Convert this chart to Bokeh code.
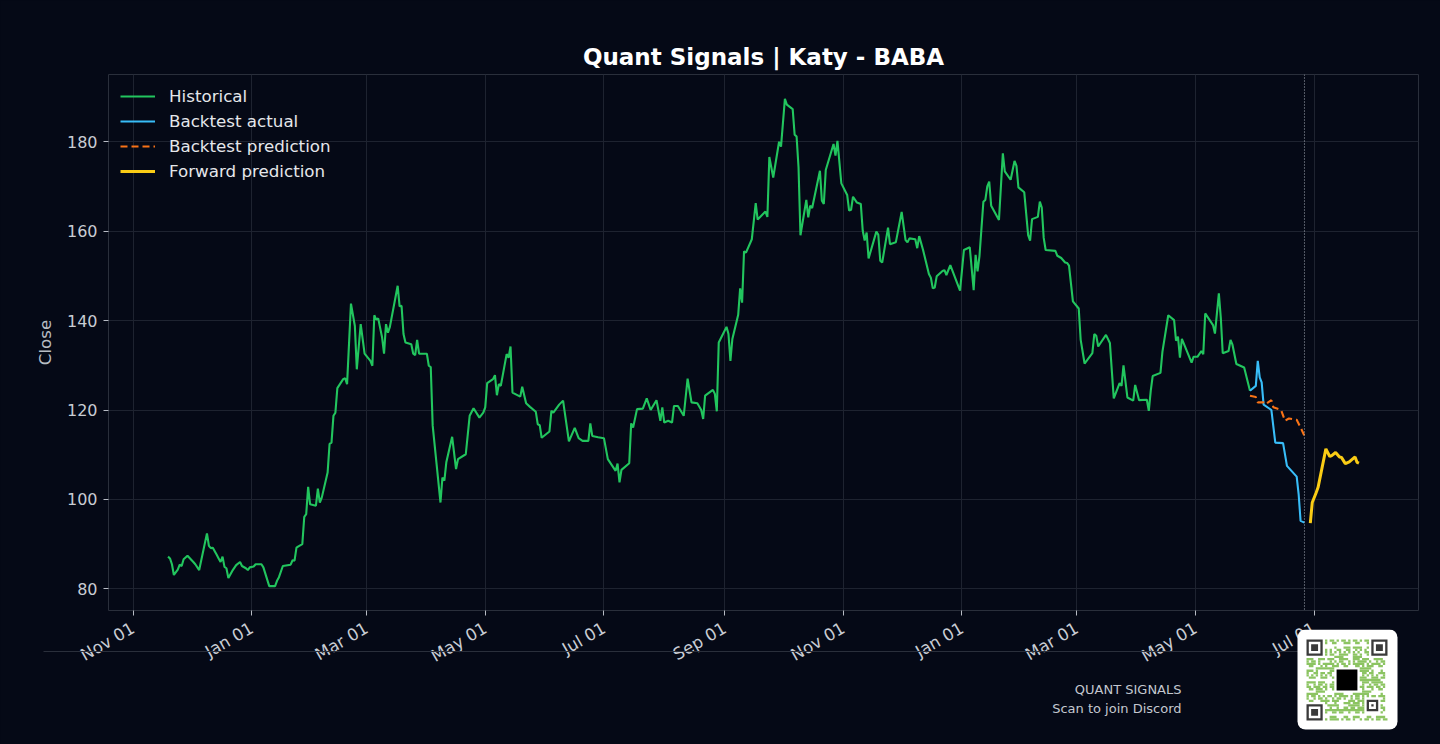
import math
import pandas as pd
from bokeh.plotting import figure
from bokeh.layouts import column
from bokeh.models import (ColumnDataSource, DatetimeTickFormatter, FixedTicker, Legend,
                          LegendItem, Span, Range1d)
from bokeh.core.properties import value
from bokeh.embed import file_html
from bokeh.resources import INLINE

# ---------------- data ----------------
hist_dates = [
    "2024-11-19", "2024-11-20", "2024-11-21", "2024-11-22", "2024-11-24", "2024-11-25", "2024-11-26",
    "2024-11-27", "2024-11-29", "2024-12-02", "2024-12-03", "2024-12-05", "2024-12-09", "2024-12-10",
    "2024-12-11", "2024-12-12", "2024-12-14", "2024-12-15", "2024-12-16", "2024-12-17", "2024-12-18",
    "2024-12-19", "2024-12-20", "2024-12-22", "2024-12-24", "2024-12-26", "2024-12-27", "2024-12-29",
    "2024-12-30", "2024-12-31", "2025-01-02", "2025-01-03", "2025-01-06", "2025-01-07", "2025-01-08",
    "2025-01-10", "2025-01-13", "2025-01-14", "2025-01-15", "2025-01-17", "2025-01-21", "2025-01-22",
    "2025-01-23", "2025-01-24", "2025-01-25", "2025-01-27", "2025-01-28", "2025-01-29", "2025-01-30",
    "2025-01-31", "2025-02-03", "2025-02-04", "2025-02-05", "2025-02-06", "2025-02-09", "2025-02-10",
    "2025-02-11", "2025-02-12", "2025-02-13", "2025-02-14", "2025-02-17", "2025-02-18", "2025-02-19",
    "2025-02-21", "2025-02-23", "2025-02-24", "2025-02-26", "2025-02-28", "2025-03-03", "2025-03-04",
    "2025-03-05", "2025-03-06", "2025-03-07", "2025-03-09", "2025-03-10", "2025-03-11", "2025-03-12",
    "2025-03-13", "2025-03-17", "2025-03-18", "2025-03-19", "2025-03-20", "2025-03-21", "2025-03-24",
    "2025-03-25", "2025-03-26", "2025-03-27", "2025-03-28", "2025-04-01", "2025-04-02", "2025-04-03",
    "2025-04-04", "2025-04-06", "2025-04-08", "2025-04-09", "2025-04-10", "2025-04-11", "2025-04-14",
    "2025-04-16", "2025-04-17", "2025-04-21", "2025-04-23", "2025-04-25", "2025-04-28", "2025-04-30",
    "2025-05-01", "2025-05-02", "2025-05-05", "2025-05-06", "2025-05-07", "2025-05-08", "2025-05-09",
    "2025-05-12", "2025-05-13", "2025-05-14", "2025-05-15", "2025-05-19", "2025-05-20", "2025-05-22",
    "2025-05-24", "2025-05-27", "2025-05-28", "2025-05-29", "2025-05-30", "2025-06-03", "2025-06-04",
    "2025-06-05", "2025-06-08", "2025-06-10", "2025-06-13", "2025-06-16", "2025-06-18", "2025-06-20",
    "2025-06-23", "2025-06-24", "2025-06-25", "2025-06-28", "2025-07-01", "2025-07-03", "2025-07-07",
    "2025-07-08", "2025-07-09", "2025-07-10", "2025-07-14", "2025-07-15", "2025-07-16", "2025-07-18",
    "2025-07-21", "2025-07-23", "2025-07-25", "2025-07-28", "2025-07-30", "2025-07-31", "2025-08-01",
    "2025-08-03", "2025-08-05", "2025-08-06", "2025-08-08", "2025-08-11", "2025-08-13", "2025-08-15",
    "2025-08-18", "2025-08-20", "2025-08-21", "2025-08-22", "2025-08-26", "2025-08-27", "2025-08-28",
    "2025-08-29", "2025-09-02", "2025-09-03", "2025-09-04", "2025-09-05", "2025-09-08", "2025-09-09",
    "2025-09-10", "2025-09-11", "2025-09-12", "2025-09-15", "2025-09-17", "2025-09-18", "2025-09-22",
    "2025-09-23", "2025-09-24", "2025-09-26", "2025-09-29", "2025-09-30", "2025-10-02", "2025-10-03",
    "2025-10-06", "2025-10-07", "2025-10-08", "2025-10-09", "2025-10-10", "2025-10-13", "2025-10-14",
    "2025-10-15", "2025-10-16", "2025-10-20", "2025-10-21", "2025-10-22", "2025-10-23", "2025-10-27",
    "2025-10-28", "2025-10-29", "2025-10-31", "2025-11-03", "2025-11-04", "2025-11-05", "2025-11-06",
    "2025-11-08", "2025-11-10", "2025-11-11", "2025-11-12", "2025-11-13", "2025-11-14", "2025-11-18",
    "2025-11-19", "2025-11-20", "2025-11-21", "2025-11-24", "2025-11-25", "2025-11-28", "2025-12-01",
    "2025-12-03", "2025-12-04", "2025-12-05", "2025-12-08", "2025-12-09", "2025-12-10", "2025-12-12",
    "2025-12-15", "2025-12-16", "2025-12-17", "2025-12-18", "2025-12-19", "2025-12-22", "2025-12-23",
    "2025-12-24", "2025-12-26", "2025-12-31", "2026-01-02", "2026-01-05", "2026-01-07", "2026-01-08",
    "2026-01-09", "2026-01-10", "2026-01-12", "2026-01-13", "2026-01-14", "2026-01-15", "2026-01-16",
    "2026-01-20", "2026-01-22", "2026-01-23", "2026-01-26", "2026-01-28", "2026-01-29", "2026-01-30",
    "2026-02-02", "2026-02-04", "2026-02-05", "2026-02-06", "2026-02-09", "2026-02-10", "2026-02-11",
    "2026-02-12", "2026-02-13", "2026-02-18", "2026-02-19", "2026-02-21", "2026-02-23", "2026-02-24",
    "2026-02-25", "2026-02-27", "2026-03-02", "2026-03-03", "2026-03-05", "2026-03-09", "2026-03-10",
    "2026-03-11", "2026-03-12", "2026-03-16", "2026-03-18", "2026-03-20", "2026-03-23", "2026-03-24",
    "2026-03-25", "2026-03-27", "2026-03-30", "2026-03-31", "2026-04-02", "2026-04-06", "2026-04-07",
    "2026-04-08", "2026-04-09", "2026-04-13", "2026-04-14", "2026-04-17", "2026-04-20", "2026-04-21",
    "2026-04-22", "2026-04-23", "2026-04-24", "2026-04-29", "2026-04-30", "2026-05-02", "2026-05-04",
    "2026-05-05", "2026-05-06", "2026-05-10", "2026-05-11", "2026-05-13", "2026-05-14", "2026-05-15",
    "2026-05-18", "2026-05-19", "2026-05-20", "2026-05-22", "2026-05-26", "2026-05-29",
]
hist_close = [
    87.2, 86.8, 85.5, 83.1, 84.3, 85.4, 85.1,
    86.6, 87.4, 86.0, 85.5, 84.2, 92.4, 89.6,
    89.1, 89.2, 87.6, 86.8, 86.0, 87.2, 84.9,
    84.6, 82.4, 84.0, 85.3, 86.0, 85.1, 84.6,
    84.2, 84.8, 85.0, 85.5, 85.5, 84.8, 83.4,
    80.6, 80.6, 81.8, 82.6, 85.1, 85.4, 86.4,
    86.3, 89.2, 89.5, 90.0, 96.1, 96.7, 102.8,
    98.9, 98.6, 102.4, 99.3, 100.4, 106.0, 112.4,
    112.7, 118.7, 119.4, 124.9, 126.9, 127.1, 125.8,
    143.8, 138.8, 129.1, 139.2, 132.6, 131.0, 129.9,
    141.2, 140.2, 140.5, 136.2, 132.6, 139.2, 137.3,
    138.6, 147.8, 143.2, 143.3, 137.0, 135.1, 134.7,
    132.6, 132.3, 135.7, 132.6, 132.6, 129.9, 129.6,
    116.5, 107.9, 99.3, 104.9, 104.2, 108.3, 114.0,
    106.8, 109.0, 110.1, 118.7, 120.4, 118.3, 119.4,
    120.6, 126.0, 126.9, 127.8, 123.3, 125.8, 125.4,
    132.5, 131.7, 134.2, 123.9, 123.0, 125.2, 121.5,
    120.7, 119.6, 116.8, 116.6, 113.8, 115.2, 119.8,
    119.4, 121.2, 122.1, 113.0, 116.0, 113.7, 113.1,
    113.1, 117.0, 114.2, 113.9, 113.7, 109.0, 106.4,
    108.0, 103.8, 106.6, 108.1, 117.0, 116.1, 120.2,
    120.3, 122.6, 120.0, 122.2, 117.6, 120.6, 117.2,
    117.6, 117.2, 120.9, 120.9, 118.7, 127.0, 121.7,
    121.5, 120.0, 118.0, 123.2, 124.5, 123.6, 119.7,
    135.1, 138.6, 137.0, 131.0, 135.9, 141.3, 147.2,
    144.0, 155.5, 155.2, 158.2, 166.3, 162.6, 164.4,
    163.2, 176.6, 172.0, 180.0, 178.9, 189.6, 188.3,
    187.3, 181.6, 181.2, 174.3, 159.1, 167.0, 163.1,
    165.7, 165.2, 173.5, 166.8, 166.1, 173.7, 179.5,
    176.9, 180.2, 170.7, 168.1, 164.6, 164.8, 167.7,
    166.4, 166.1, 160.1, 157.9, 159.7, 153.9, 159.9,
    159.2, 153.4, 153.0, 160.8, 157.1, 157.5, 164.3,
    158.0, 157.5, 158.4, 158.2, 156.2, 158.9, 155.8,
    150.4, 149.6, 147.2, 147.4, 149.9, 151.1, 151.3,
    150.2, 152.4, 146.7, 155.8, 156.4, 146.8, 154.7,
    151.0, 154.5, 166.6, 167.0, 170.0, 171.1, 165.7,
    162.5, 177.4, 173.4, 171.5, 175.7, 174.6, 169.8,
    168.7, 159.1, 157.9, 162.7, 163.2, 166.6, 165.3,
    158.5, 155.8, 155.6, 154.5, 154.0, 153.0, 152.9,
    152.3, 144.3, 142.7, 135.7, 130.4, 132.7, 137.0,
    136.6, 134.2, 136.8, 135.0, 122.6, 126.0, 125.4,
    130.0, 122.8, 122.1, 125.6, 122.2, 122.3, 119.8,
    124.3, 127.6, 128.3, 133.0, 141.2, 140.1, 135.5,
    136.4, 131.7, 135.9, 130.6, 131.9, 131.9, 133.2,
    132.5, 141.6, 139.0, 137.1, 146.1, 140.7, 132.7,
    133.2, 135.7, 134.6, 130.3, 129.5, 124.3,
]

backtest_dates = ["2026-05-29", "2026-06-01", "2026-06-02", "2026-06-03", "2026-06-04", "2026-06-05",
                  "2026-06-09", "2026-06-11", "2026-06-15", "2026-06-17", "2026-06-22", "2026-06-23",
                  "2026-06-24", "2026-06-26"]
backtest_actual = [124.3, 125.4, 131.0, 127.3, 126.2, 121.2, 120.0, 112.7, 112.6, 107.5, 105.1,
                   101.2, 95.2, 94.8]

backtest_pred_dates = ["2026-05-29", "2026-06-01", "2026-06-02", "2026-06-05", "2026-06-06",
                       "2026-06-09", "2026-06-10", "2026-06-14", "2026-06-16", "2026-06-18",
                       "2026-06-22", "2026-06-24", "2026-06-26"]
backtest_pred = [123.2, 122.9, 121.7, 121.7, 121.3, 122.2, 120.6, 120.0, 117.6, 118.1, 117.8,
                 116.1, 114.2]

forward_dates = ["2026-06-29", "2026-06-30", "2026-07-02", "2026-07-03", "2026-07-07", "2026-07-09",
                 "2026-07-10", "2026-07-12", "2026-07-14", "2026-07-15", "2026-07-17", "2026-07-19",
                 "2026-07-22", "2026-07-23", "2026-07-24"]
forward_pred = [94.7, 99.3, 101.5, 102.7, 111.3, 109.6, 109.8, 110.5, 109.5, 109.4, 108.0, 108.4,
                109.5, 108.3, 108.1]

forecast_start = "2026-06-26"

x_tick_dates = ["2024-11-01", "2025-01-01", "2025-03-01", "2025-05-01", "2025-07-01", "2025-09-01",
                "2025-11-01", "2026-01-01", "2026-03-01", "2026-05-01", "2026-07-01"]
y_ticks = [80, 100, 120, 140, 160, 180]

title_text = "Quant Signals | Katy - BABA"
y_label = "Close"
series_labels = ["Historical", "Backtest actual", "Backtest prediction", "Forward prediction"]
footer_lines = ["QUANT SIGNALS", "Scan to join Discord"]

# ---------------- styling ----------------
BG = "#050916"
GRID = "#1e2330"
SPINE = "#2a2f3b"
FONT = "DejaVu Sans"
GREEN = "#22c55e"
BLUE = "#38bdf8"
ORANGE = "#f97316"
YELLOW = "#facc15"
TICK_TEXT = "#c9cdd4"

W, H = 1440, 744
FOOT_TOP = 629  # canvas row where the footer overlay starts


def ts(s):
    return pd.Timestamp(s)


def ms(s):
    return pd.Timestamp(s).value / 1e6


# ranges with 5% margins like the original
all_dates = [ts(d) for d in hist_dates + backtest_dates + backtest_pred_dates + forward_dates]
all_vals = hist_close + backtest_actual + backtest_pred + forward_pred
d0, d1 = min(all_dates), max(all_dates)
dpad = (d1 - d0) * 0.05
v0, v1 = min(all_vals), max(all_vals)
vpad = (v1 - v0) * 0.05

p = figure(width=W, height=H, x_axis_type="datetime", output_backend="svg",
           toolbar_location=None,
           x_range=Range1d(d0 - dpad, d1 + dpad), y_range=Range1d(v0 - vpad, v1 + vpad),
           min_border_left=108, min_border_right=22, min_border_top=74, min_border_bottom=134)
p.frame_align = False

p.background_fill_color = BG
p.border_fill_color = BG
p.outline_line_color = SPINE
p.outline_line_width = 1

p.title.text = title_text
p.title.align = "center"
p.title.text_font = FONT
p.title.text_font_size = "23px"
p.title.text_font_style = "bold"
p.title.text_color = "#ffffff"
p.title.standoff = 10

xt = FixedTicker(ticks=[ms(d) for d in x_tick_dates])
yt = FixedTicker(ticks=y_ticks)
p.xaxis.ticker = xt
p.yaxis.ticker = yt
p.xgrid.ticker = xt
p.ygrid.ticker = yt
fmt = "%b %d"
p.xaxis.formatter = DatetimeTickFormatter(microseconds=fmt, milliseconds=fmt, seconds=fmt,
                                          minsec=fmt, minutes=fmt, hourmin=fmt, hours=fmt,
                                          days=fmt, months=fmt, years=fmt)
p.xaxis.major_label_orientation = math.pi / 6

for ax in (p.xaxis, p.yaxis):
    ax.axis_line_color = None
    ax.major_tick_line_color = "#b8bcc4"
    ax.major_tick_out = 5
    ax.major_tick_in = 0
    ax.minor_tick_line_color = None
    ax.major_label_text_font = FONT
    ax.major_label_text_color = TICK_TEXT
    ax.major_label_standoff = 6
p.yaxis.major_label_text_font_size = "16px"
p.xaxis.major_label_text_font_size = "16.7px"
p.xaxis.major_label_standoff = 11

p.yaxis.axis_label = y_label
p.yaxis.axis_label_text_font = FONT
p.yaxis.axis_label_text_font_size = "16.7px"
p.yaxis.axis_label_text_font_style = "normal"
p.yaxis.axis_label_text_color = "#b8bcc4"
p.yaxis.axis_label_standoff = 9

p.xgrid.grid_line_color = GRID
p.ygrid.grid_line_color = GRID

src_h = ColumnDataSource(dict(x=[ts(d) for d in hist_dates], y=hist_close))
src_ba = ColumnDataSource(dict(x=[ts(d) for d in backtest_dates], y=backtest_actual))
src_bp = ColumnDataSource(dict(x=[ts(d) for d in backtest_pred_dates], y=backtest_pred))
src_f = ColumnDataSource(dict(x=[ts(d) for d in forward_dates], y=forward_pred))

r_h = p.line("x", "y", source=src_h, line_color=GREEN, line_width=2.1)
r_ba = p.line("x", "y", source=src_ba, line_color=BLUE, line_width=2.1)
r_bp = p.line("x", "y", source=src_bp, line_color=ORANGE, line_width=2.1, line_dash="7 4")
r_f = p.line("x", "y", source=src_f, line_color=YELLOW, line_width=3)

p.add_layout(Span(location=ms(forecast_start), dimension="height", line_color="#aab0ba",
                  line_width=1, line_dash="1 2"))

legend = Legend(items=[LegendItem(label=series_labels[0], renderers=[r_h]),
                       LegendItem(label=series_labels[1], renderers=[r_ba]),
                       LegendItem(label=series_labels[2], renderers=[r_bp]),
                       LegendItem(label=series_labels[3], renderers=[r_f])],
                location="top_left", background_fill_alpha=0, border_line_alpha=0,
                label_text_font=FONT, label_text_font_size="16.7px", label_text_color="#e5e7eb",
                glyph_width=35, glyph_height=18, label_height=18, spacing=5, padding=12,
                margin=0, label_standoff=14)
p.add_layout(legend)

# ---------------- footer overlay figure (pixel coordinates, overlaps the bottom) ----------------
fh = H - FOOT_TOP
foot = figure(width=W, height=fh, output_backend="svg", toolbar_location=None,
              x_range=Range1d(0, W), y_range=Range1d(H, FOOT_TOP),
              min_border=0, margin=(-fh, 0, 0, 0))
foot.frame_align = False
foot.axis.visible = False
foot.grid.visible = False
foot.outline_line_color = None
foot.background_fill_alpha = 0
foot.border_fill_alpha = 0

# separator line
foot.segment(x0=[43], y0=[651], x1=[1397], y1=[651], line_color=SPINE, line_width=1)

# footer captions
foot.text(x=[1181, 1181], y=[689, 708], text=footer_lines, text_align="right",
          text_baseline="middle", text_font=value(FONT), text_font_size="13px",
          text_color="#c3c7cf")

# QR-code badge (decorative)
foot.quad(left=[1297], right=[1397], top=[629], bottom=[729], fill_color="#ffffff",
          line_color=None, border_radius=8)

N = 35
QX, QY = 1306.0, 639.0
M = 81.0 / N
QG = "#8cc462"
QD = "#3a3a3a"


def reserved(i, j):
    if i < 8 and j < 8:
        return True
    if i >= N - 8 and j < 8:
        return True
    if i < 8 and j >= N - 8:
        return True
    if 25 <= i <= 31 and 25 <= j <= 31:
        return True
    if 12 <= i <= 22 and 12 <= j <= 22:
        return True
    return False


def bit(i, j):
    return ((i * 37 + j * 91 + i * j * 13 + (i ^ j) * 7) % 10) < 5


ql, qr, qt, qb, qc = [], [], [], [], []


def cell(l, t, r, b, c):
    ql.append(l); qt.append(t); qr.append(r); qb.append(b); qc.append(c)


for j in range(N):
    i = 0
    while i < N:
        if not reserved(i, j) and bit(i, j):
            s = i
            while i < N and not reserved(i, j) and bit(i, j):
                i += 1
            cell(QX + s * M, QY + j * M, QX + i * M, QY + (j + 1) * M, QG)
        else:
            i += 1

for (fi, fj) in [(0, 0), (N - 7, 0), (0, N - 7)]:
    cell(QX + fi * M, QY + fj * M, QX + (fi + 7) * M, QY + (fj + 7) * M, QD)
    cell(QX + (fi + 1) * M, QY + (fj + 1) * M, QX + (fi + 6) * M, QY + (fj + 6) * M, "#ffffff")
    cell(QX + (fi + 2) * M, QY + (fj + 2) * M, QX + (fi + 5) * M, QY + (fj + 5) * M, QD)
cell(QX + 26 * M, QY + 26 * M, QX + 31 * M, QY + 31 * M, QD)
cell(QX + 27 * M, QY + 27 * M, QX + 30 * M, QY + 30 * M, "#ffffff")
cell(QX + 28 * M, QY + 28 * M, QX + 29 * M, QY + 29 * M, QD)
cell(QX + 13 * M, QY + 13 * M, QX + 22 * M, QY + 22 * M, "#000000")

foot.quad(left=ql, right=qr, top=qt, bottom=qb, fill_color=qc, line_color=None)

layout = column(p, foot, spacing=0, margin=0)
layout.styles = {"background-color": BG}

open("out.html", "w").write(file_html(layout, INLINE))
